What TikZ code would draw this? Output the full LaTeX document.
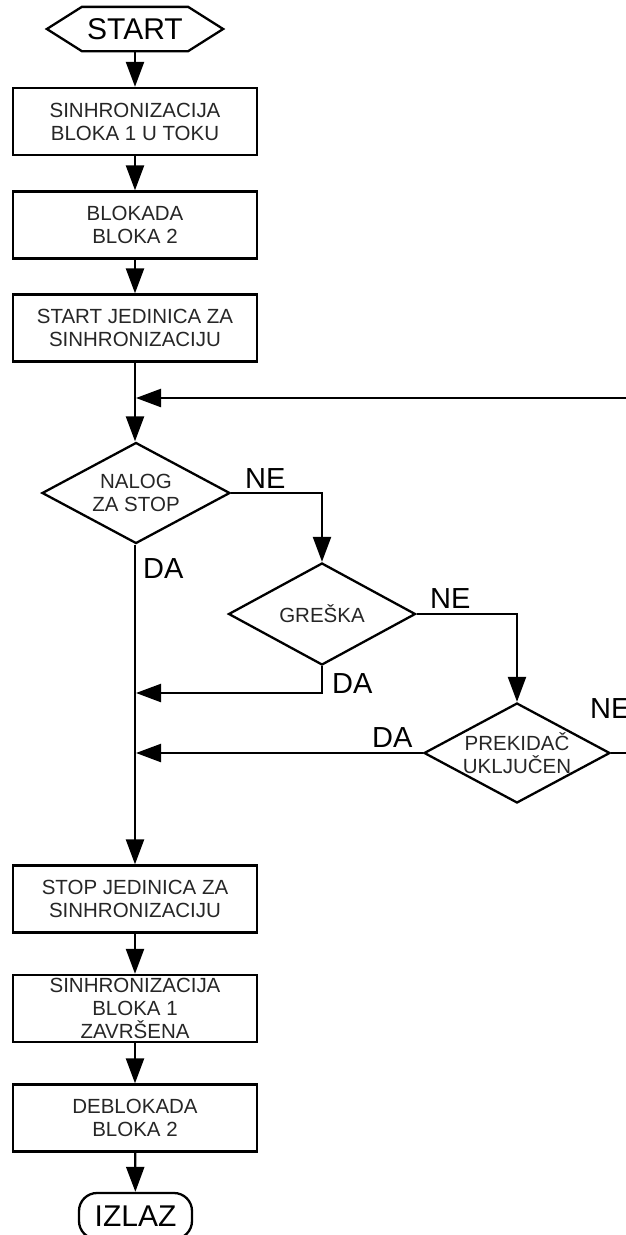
\documentclass[tikz,border=0pt]{standalone}
\usepackage{fontspec}
\setmainfont{Liberation Sans}
\usepackage{tikz}
\usetikzlibrary{shapes,shapes.geometric,arrows.meta,positioning,calc}

\newcommand{\boxfont}{\fontsize{20.5pt}{23pt}\selectfont}
\newcommand{\tagfont}{\fontsize{29pt}{33pt}\selectfont}
\newcommand{\termfont}{\fontsize{30pt}{34pt}\selectfont}

\begin{document}
\begin{tikzpicture}[x=1pt, y=-1pt, line width=2.3pt,
    stepbox/.style={draw, rectangle, minimum width=244pt, minimum height=67pt, inner sep=0pt, align=center, font=\boxfont, text=black!85},
    test/.style={draw, diamond, aspect=1.86, inner sep=0pt, align=center, font=\boxfont, text=black!85},
    flow/.style={-{Triangle[length=25pt,width=18pt]}},
    tag/.style={anchor=base west, inner sep=0pt, font=\tagfont}]
    \useasboundingbox (0,0) rectangle (626,1235);
    \clip (0,0) rectangle (626,1235);

    % terminals
    \node[minimum width=104pt, minimum height=42pt, inner sep=0pt, font=\termfont] (start) at (135,29) {START};
    \draw (start.north west) -- (start.north east) -- ([xshift=35pt]start.east) -- (start.south east)
        -- (start.south west) -- ([xshift=-35pt]start.west) -- cycle;
    \node[draw, rounded corners=18pt, minimum width=113pt, minimum height=46pt, inner sep=0pt, font=\termfont] (izlaz) at (135.5,1216) {IZLAZ};

    % blocks
    \node[stepbox] (box1) at (135,121.5) {SINHRONIZACIJA\\BLOKA 1 U TOKU};
    \node[stepbox] (box2) at (135,225) {BLOKADA\\BLOKA 2};
    \node[stepbox] (box3) at (135,328) {START JEDINICA ZA\\SINHRONIZACIJU};
    \node[stepbox] (box4) at (135,899) {STOP JEDINICA ZA\\SINHRONIZACIJU};
    \node[stepbox] (box5) at (135,1008.5) {SINHRONIZACIJA\\BLOKA 1\\ZAVRŠENA};
    \node[stepbox] (box6) at (135,1118) {DEBLOKADA\\BLOKA 2};

    % decisions
    \node[test, minimum width=188pt, minimum height=101pt] (d1) at (136,493) {NALOG\\ZA STOP};
    \node[test, minimum width=187pt, minimum height=102pt] (d2) at (322,614) {GREŠKA};
    \node[test, minimum width=186pt, minimum height=100pt] (d3) at (517,753) {PREKIDAČ\\UKLJUČEN};

    \coordinate (merge) at (136,398);
    \coordinate (j2) at (136,693);
    \coordinate (j3) at (136,753);

    % main line
    \draw[flow] (start) -- (box1);
    \draw[flow] (box1) -- (box2);
    \draw[flow] (box2) -- (box3);
    \draw[flow] (box3.south) -- (box3.south |- d1.north);
    \draw[flow] (box3.south |- d1.south) -- (box4.north);
    \draw[flow] (box4) -- (box5);
    \draw[flow] (box5) -- (box6);
    \draw[flow] (box6) -- (izlaz);

    % branches
    \draw[flow] (d1.east) -| (d2.north);
    \draw[flow] (d2.east) -| (d3.north);
    \draw[flow] (d2.south) |- (j2);
    \draw[flow] (d3.west) -- (j3);
    \draw[flow] (d3.east) -- ++(40,0) |- (merge); % loop back

    \node[tag] (ne1) at (244,488) {NE};
    \node[tag] (da1) at (142,578) {DA};
    \node[tag] (ne2) at (429,608) {NE};
    \node[tag] (da2) at (331,693) {DA};
    \node[tag] (da3) at (371,747) {DA};
    \node[tag] (ne3) at (589,718) {NE};
\end{tikzpicture}
\end{document}
